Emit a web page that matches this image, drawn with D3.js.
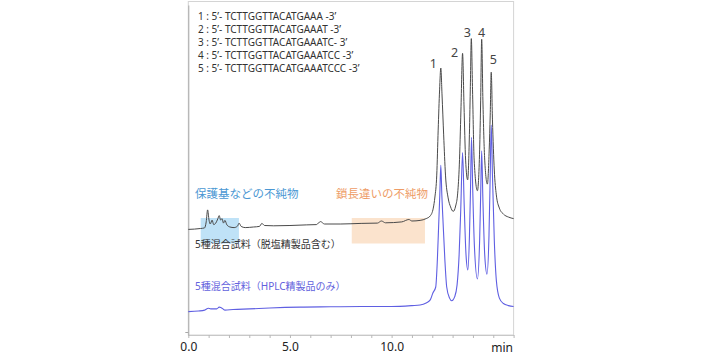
<!DOCTYPE html>
<html><head><meta charset="utf-8">
<script src="https://cdn.jsdelivr.net/npm/d3@7"></script>
<style>
html,body{margin:0;padding:0;background:#fff;}
svg{display:block;font-family:"Noto Sans","Noto Sans CJK JP",sans-serif;}
</style></head>
<body><svg id="chart" width="720" height="360"></svg>
<script>
// ---- data ----
const blackTime = [0,0.3,0.6,0.8,0.88,0.95,1.02,1.08,1.17,1.25,1.35,1.45,1.52,1.59,1.66,1.73,1.8,1.9,2.05,2.25,2.42,2.5,2.6,2.8,3.2,3.5,3.62,3.75,4.2,5.0,5.8,6.3,6.5,6.7,7.5,8.5,9.3,9.5,9.7,10.5,10.85,11.0,11.4,11.7,11.9,12.05,12.13,12.22,12.29,12.36,12.42,12.48,12.56,12.65,12.78,12.9,13.03,13.15,13.25,13.33,13.41,13.49,13.56,13.64,13.74,13.82,13.87,13.92,13.98,14.06,14.22,14.33,14.38,14.43,14.49,14.58,14.71,14.80,14.85,14.90,14.96,15.05,15.15,15.3,15.5,15.75,16.0];
const blackSignal = [35.2,35.3,35.5,35.7,37.7,41.7,38.3,37.0,38.3,36.8,37.3,38.7,39.8,38.3,38.8,37.3,38.2,36.7,36.0,35.8,36.3,37.3,36.2,35.8,36.0,36.2,37.2,36.5,36.4,36.5,36.7,36.8,37.8,37.0,37.0,37.2,37.3,38.0,37.4,37.7,38.5,38.0,38.2,38.8,39.7,42.3,46,53.3,68.3,81.7,89,80,66.7,53.3,45.7,42.7,41.2,43,47.3,56.7,75,93.9,76.7,58.3,51.7,65,81.7,98.8,81.7,58.3,48.1,61.7,78.3,98.6,78.3,58.3,50.3,61.7,73.3,87.6,71.7,55,46.7,42.3,40.3,39.3,38.8];

const blueTime = [0,0.5,0.8,0.9,0.98,1.1,1.4,1.52,1.6,1.8,2.2,3.0,4.0,5.5,7.0,8.5,10.0,11.0,11.4,11.7,11.9,12.03,12.17,12.25,12.32,12.37,12.42,12.47,12.53,12.62,12.71,12.85,12.96,13.1,13.22,13.32,13.4,13.49,13.57,13.66,13.75,13.83,13.88,13.93,13.99,14.07,14.22,14.33,14.38,14.43,14.49,14.58,14.69,14.79,14.85,14.90,14.96,15.05,15.15,15.3,15.5,15.75,16.0];
const blueSignal = [7.8,8.0,8.3,8.7,8.9,8.7,8.7,9.3,9.2,8.3,8.5,8.7,9.0,9.3,9.4,9.5,9.5,9.8,10,10.7,11.7,14,16,25,37.7,46.7,56.6,46.7,37.7,25,16,12.3,11.4,12.7,16.7,26.7,41.7,60.8,43.3,26.7,21.7,33.3,48.3,65.9,48.3,30,18.7,31.7,46.7,61.4,45,26.7,20.3,33.3,53.3,70,53.3,31.7,18.3,12.3,10.5,9.8,9.5];

const peakLabels = ["1","2","3","4","5"];
const peakTimes = [12.42,13.49,13.92,14.43,14.90];
const peakHeights = [89,93.9,98.8,98.6,87.6];

const sequenceLines = [
  "1 : 5\u2019- TCTTGGTTACATGAAA -3\u2019",
  "2 : 5\u2019- TCTTGGTTACATGAAAT -3\u2019",
  "3 : 5\u2019- TCTTGGTTACATGAAATC- 3\u2019",
  "4 : 5\u2019- TCTTGGTTACATGAAATCC -3\u2019",
  "5 : 5\u2019- TCTTGGTTACATGAAATCCC -3\u2019"
];
const regionLabels = ["保護基などの不純物","鎖長違いの不純物"];
const regionStart = [0.61, 8.04];
const regionEnd = [2.49, 11.64];
const traceNames = ["5種混合試料（脱塩精製品含む）","5種混合試料（HPLC精製品のみ）"];
const xTickValues = [0,1,2,3,4,5,6,7,8,9,10,11,12,13,14,15,16];
const xLabelValues = [0,5,10];
const xUnit = "min";

// ---- layout ----
const svg = d3.select("#chart");
const x = d3.scaleLinear().domain([0,16]).range([188.3,513.6]);
const y = d3.scaleLinear().domain([0,110]).range([335,5]);

// frame
svg.append("rect").attr("x",x(0)).attr("y",1.5).attr("width",x(16)-x(0)).attr("height",y(0)-1.5)
  .attr("fill","none").attr("stroke","#d4d4d4").attr("stroke-width",1);

// region boxes
const boxY0 = y(39.0), boxY1 = y(30.5);
const boxColors = ["#bfe2f7","#fbe3cd"];
const regionTextColors = ["#4b97d3","#ee9c66"];
regionStart.forEach((s,i)=>{
  svg.append("rect").attr("x",x(s)).attr("y",boxY0).attr("width",x(regionEnd[i])-x(s))
    .attr("height",boxY1-boxY0).attr("fill",boxColors[i]);
});
const regionTextX = [195, 336];
regionLabels.forEach((t,i)=>{
  svg.append("text").attr("x",regionTextX[i]).attr("y",197.5).text(t)
    .attr("font-family","'Noto Sans CJK JP',sans-serif")
    .attr("font-size",11.5).attr("fill",regionTextColors[i]);
});

// axes
const xAxis = d3.axisBottom(x).tickValues(xTickValues).tickSize(3).tickSizeOuter(0)
  .tickFormat(d => xLabelValues.includes(d) ? d3.format(".1f")(d) : "");
const gx = svg.append("g").attr("transform",`translate(0,${y(0)})`).call(xAxis);
gx.select(".domain").attr("stroke","#c8c8c8");
gx.selectAll(".tick line").attr("stroke","#b8b8b8");
gx.selectAll(".tick text").attr("font-size",12).attr("fill","#222").attr("dy","0.85em")
  .attr("font-family","'Noto Sans',sans-serif");
svg.append("text").attr("x",513).attr("y",352).attr("text-anchor","end")
  .attr("font-size",12).attr("fill","#222").text(xUnit);

const yAxis = d3.axisLeft(y).tickValues([1]).tickSize(3).tickFormat("").tickSizeOuter(0);
const gy = svg.append("g").attr("transform",`translate(${x(0)},0)`).call(yAxis);
gy.select(".domain").attr("stroke","#a8a8a8");
gy.selectAll(".tick line").attr("stroke","#a8a8a8");

// traces
const line = d3.line().x(d=>x(d[0])).y(d=>y(d[1])).curve(d3.curveMonotoneX);
const blackData = blackTime.map((t,i)=>[t,blackSignal[i]]);
const blueData = blueTime.map((t,i)=>[t,blueSignal[i]]);
svg.append("path").attr("d",line(blackData)).attr("fill","none").attr("stroke","#4a4a4a").attr("stroke-width",1);
svg.append("path").attr("d",line(blueData)).attr("fill","none").attr("stroke","#5f5fe2").attr("stroke-width",1.1);

// trace names
const traceNameY = [248, 290];
const traceNameColors = ["#333","#6262dd"];
traceNames.forEach((t,i)=>{
  svg.append("text").attr("x",195).attr("y",traceNameY[i]).text(t)
    .attr("font-size",10).attr("fill",traceNameColors[i])
    .attr("font-family","'Noto Sans','Noto Sans CJK JP',sans-serif");
});

// peak labels
const labelDx = [-7.5,-8,-4,0,2];
const labelDy = [0.2,3.9,-1.8,-2.7,-8.2];
peakLabels.forEach((t,i)=>{
  svg.append("text").attr("x",x(peakTimes[i])+labelDx[i]).attr("y",y(peakHeights[i])+labelDy[i])
    .attr("text-anchor","middle").attr("font-size",12.5).attr("fill","#444").text(t);
});

// sequence legend
sequenceLines.forEach((t,i)=>{
  svg.append("text").attr("x",198).attr("y",19.8+i*13).text(t)
    .attr("font-size",10).attr("fill","#333");
});
</script></body></html>
